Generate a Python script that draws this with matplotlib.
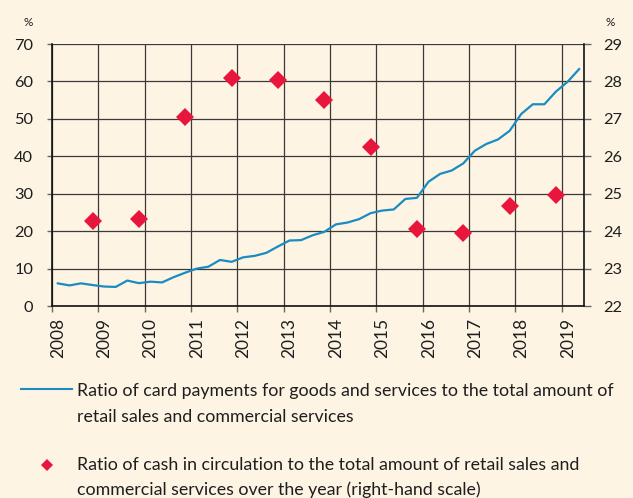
import matplotlib
matplotlib.use("Agg")
import matplotlib.pyplot as plt
from matplotlib.transforms import ScaledTranslation

# ---- data ----
years = list(range(2008, 2020))
quarters = [(y, q) for y in years for q in range(1, 5)][:46]   # 2008Q1 .. 2019Q2
card_ratio = [6.05, 5.5, 6.05, 5.6, 5.2, 5.1, 6.8, 6.1, 6.5, 6.3, 7.7, 8.9,
              10.0, 10.5, 12.3, 11.8, 13.0, 13.4, 14.2, 15.9, 17.5, 17.6, 18.9, 19.8,
              21.8, 22.3, 23.2, 24.8, 25.5, 25.8, 28.6, 28.9, 33.2, 35.3, 36.2, 38.1,
              41.5, 43.3, 44.5, 46.8, 51.3, 53.9, 53.9, 57.3, 59.9, 63.3]
cash_years = list(range(2008, 2019))
cash_ratio = [24.26, 24.32, 27.06, 28.09, 28.05, 27.5, 26.26, 24.07, 23.96, 24.67, 24.97]
left_ticks = [0, 10, 20, 30, 40, 50, 60, 70]
right_ticks = [22, 23, 24, 25, 26, 27, 28, 29]
legend_line = ["Ratio of card payments for goods and services to the total amount of",
               "retail sales and commercial services"]
legend_dots = ["Ratio of cash in circulation to the total amount of retail sales and",
               "commercial services over the year (right-hand scale)"]

BG = "#FDF4E4"
BLUE = "#1A8CC2"
RED = "#E8163C"
GRID = "#3d3a36"
TXT = "#1e1e1e"
FONT = "Lato"
W, H = 633, 498

fig = plt.figure(figsize=(W / 100, H / 100), dpi=100, facecolor=BG)
ax = fig.add_axes([52 / W, 1 - 306 / H, (584 - 52) / W, (306 - 44) / H])
ax.set_facecolor(BG)

xq = [y + (q - 0.5) / 4 for (y, q) in quarters]
ax.plot(xq, card_ratio, color=BLUE, lw=1.6, zorder=3)

ax.set_xlim(2008, 2019.48)
ax.set_ylim(0, 70)
ax.set_yticks(left_ticks)
ax.set_xticks(years)
ax.set_xticklabels([str(y) for y in years], rotation=90, fontsize=12.5, family=FONT,
                   color=TXT, va="top")
ax.set_yticklabels([str(v) for v in left_ticks], fontsize=11.8, family=FONT, color=TXT)
ax.grid(True, color=GRID, lw=0.9, zorder=0)
ax.set_axisbelow(True)
ax.spines["top"].set_visible(False)
ax.spines["right"].set_visible(False)
for s in ["left", "bottom"]:
    ax.spines[s].set_color("#111111")
    ax.spines[s].set_linewidth(1.2)
ax.tick_params(axis="y", direction="out", length=3.6, width=1, color="#666666", pad=10)
ax.tick_params(axis="x", direction="out", length=4.3, width=1, color="#666666", pad=4.3)
shift = ScaledTranslation(6 / 100, 0, fig.dpi_scale_trans)
for lab in ax.get_xticklabels():
    lab.set_transform(lab.get_transform() + shift)

ax2 = ax.twinx()
ax2.set_ylim(22, 29)
ax2.set_yticks(right_ticks)
ax2.set_yticklabels([str(v) for v in right_ticks], fontsize=11.8, family=FONT, color=TXT)
xc = [y + 0.875 for y in cash_years]
ax2.plot(xc, cash_ratio, linestyle="none", marker="D", markersize=9,
         color=RED, markeredgewidth=0, zorder=4)
for s in ["top", "left", "bottom"]:
    ax2.spines[s].set_visible(False)
ax2.spines["right"].set_color("#111111")
ax2.spines["right"].set_linewidth(1.2)
ax2.tick_params(axis="y", direction="out", length=5, width=1, color="#666666", pad=8.6)

fig.text(28 / W, 1 - 23 / H, "%", fontsize=8.5, family=FONT, ha="center", va="center", color=TXT)
fig.text(610 / W, 1 - 22 / H, "%", fontsize=8.5, family=FONT, ha="center", va="center", color=TXT)

# legend
fig.add_artist(plt.Line2D([21 / W, 72 / W], [1 - 389 / H, 1 - 389 / H], color=BLUE, lw=1.5))
for txt, yb in zip(legend_line, [396, 422]):
    fig.text(77 / W, 1 - yb / H, txt, fontsize=12.75, family=FONT, ha="left",
             va="baseline", color=TXT)
fig.add_artist(plt.Line2D([47 / W], [1 - 465 / H], marker="D", markersize=6.5, color=RED,
                          markeredgewidth=0, linestyle="none"))
for txt, yb in zip(legend_dots, [470, 495]):
    fig.text(77 / W, 1 - yb / H, txt, fontsize=12.75, family=FONT, ha="left",
             va="baseline", color=TXT)

fig.savefig("out.png", dpi=100, facecolor=BG)
